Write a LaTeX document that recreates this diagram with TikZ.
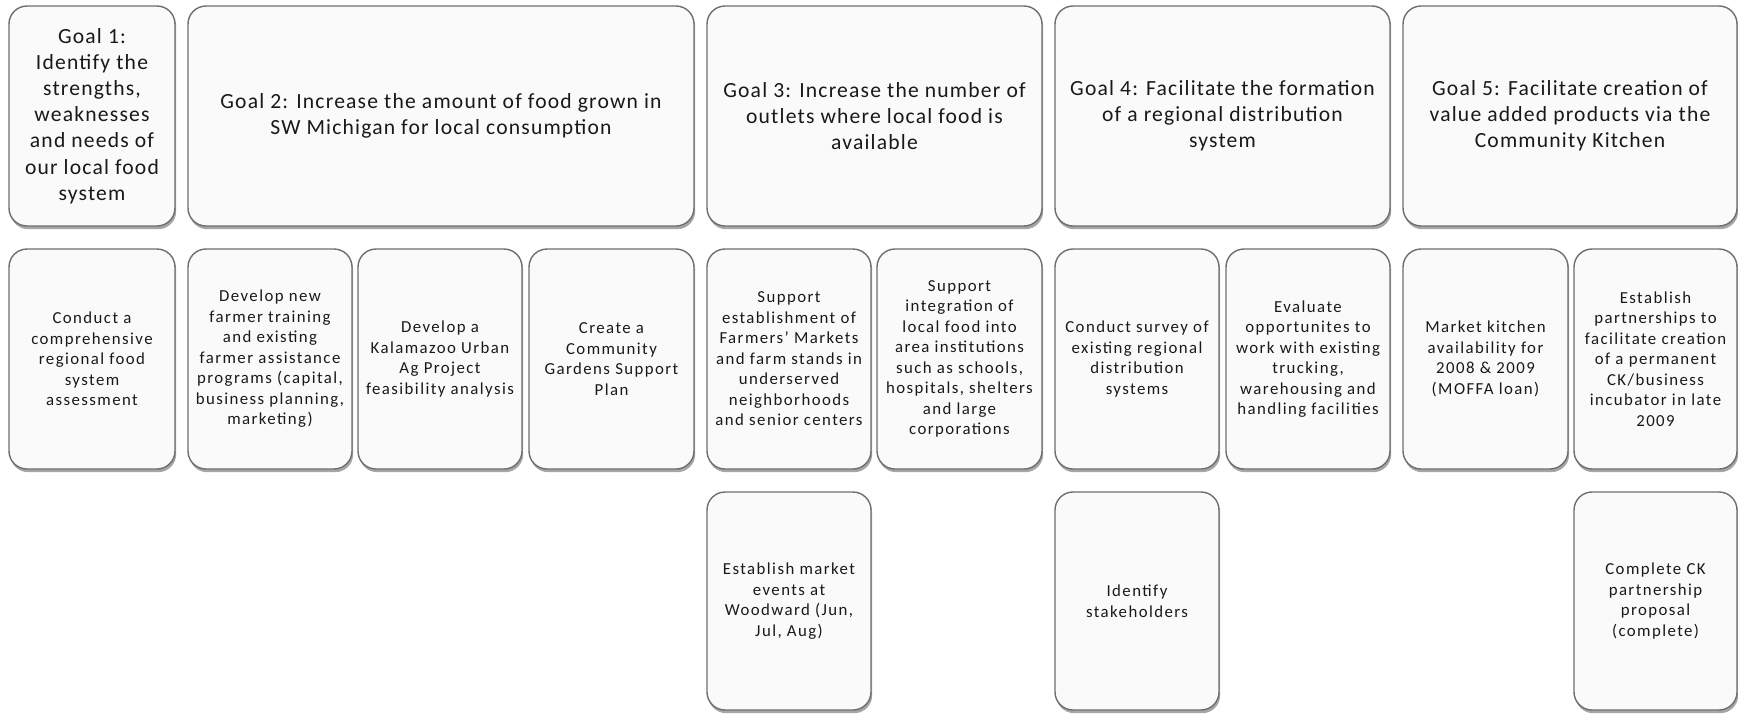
\documentclass[tikz,border=0pt]{standalone}
\usepackage{fontspec}
\setmainfont{Carlito}
\newfontfamily\goalfont[LetterSpace=5.5]{Carlito}
\newfontfamily\taskfont[LetterSpace=8.5]{Carlito}
\usetikzlibrary{shadows}
\definecolor{boxline}{HTML}{6E6E6E}
\definecolor{boxfill}{HTML}{FAFAFA}
\tikzset{
  cardbox/.style={draw=boxline, line width=0.7pt, fill=boxfill, rounded corners=9pt,
    align=center, inner sep=0pt, text=black!90,
    drop shadow={shadow xshift=0.6pt, shadow yshift=-1.6pt, fill=black, opacity=0.35}},
  goalbox/.style={cardbox, font=\goalfont\fontsize{10.8}{13.1}\selectfont},
  taskbox/.style={cardbox, font=\taskfont\fontsize{8.4}{10.25}\selectfont},
}
\newcommand\cardat[7]{\node[#1, minimum width={(#5-#3)*0.5pt}, minimum height={(#6-#4)*0.5pt}] (#2) at ({(#3+#5)/2},{(#4+#6)/2}) {#7};}
\begin{document}
\begin{tikzpicture}[x=0.5pt,y=-0.5pt]
\useasboundingbox (0,0) rectangle (1738,713);
% Row 1: goals
\cardat{goalbox}{g1}{9}{6}{175}{226}{Goal 1:\\ Identify the\\ strengths,\\ weaknesses\\ and needs of\\ our local food\\ system}
\cardat{goalbox}{g2}{188}{6}{694}{226}{Goal 2: Increase the amount of food grown in\\ SW Michigan for local consumption}
\cardat{goalbox}{g3}{707}{6}{1042}{226}{Goal 3: Increase the number of\\ outlets where local food is\\ available}
\cardat{goalbox}{g4}{1055}{6}{1390}{226}{Goal 4: Facilitate the formation\\ of a regional distribution\\ system}
\cardat{goalbox}{g5}{1403}{6}{1737}{226}{Goal 5: Facilitate creation of\\ value added products via the\\ Community Kitchen}
% Row 2
\cardat{taskbox}{a1}{9}{249}{175}{469}{Conduct a\\ comprehensive\\ regional food\\ system\\ assessment}
\cardat{taskbox}{b1}{188}{249}{352}{469}{Develop new\\ farmer training\\ and existing\\ farmer assistance\\ programs (capital,\\ business planning,\\ marketing)}
\cardat{taskbox}{b2}{358}{249}{522}{469}{Develop a\\ Kalamazoo Urban\\ Ag Project\\ feasibility analysis}
\cardat{taskbox}{b3}{529}{249}{694}{469}{Create a\\ Community\\ Gardens Support\\ Plan}
\cardat{taskbox}{c1}{707}{249}{871}{469}{Support\\ establishment of\\ Farmers’ Markets\\ and farm stands in\\ underserved\\ neighborhoods\\ and senior centers}
\cardat{taskbox}{c2}{877}{249}{1042}{469}{Support\\ integration of\\ local food into\\ area institutions\\ such as schools,\\ hospitals, shelters\\ and large\\ corporations}
\cardat{taskbox}{d1}{1055}{249}{1219}{469}{Conduct survey of\\ existing regional\\ distribution\\ systems}
\cardat{taskbox}{d2}{1226}{249}{1390}{469}{Evaluate\\ opportunites to\\ work with existing\\ trucking,\\ warehousing and\\ handling facilities}
\cardat{taskbox}{e1}{1403}{249}{1568}{469}{Market kitchen\\ availability for\\ 2008 \& 2009\\ (MOFFA loan)}
\cardat{taskbox}{e2}{1574}{249}{1737}{469}{Establish\\ partnerships to\\ facilitate creation\\ of a permanent\\ CK/business\\ incubator in late\\ 2009}
% Row 3
\cardat{taskbox}{c1b}{707}{492}{871}{710}{Establish market\\ events at\\ Woodward (Jun,\\ Jul, Aug)}
\cardat{taskbox}{d1b}{1055}{492}{1219}{710}{Identify\\ stakeholders}
\cardat{taskbox}{e2b}{1574}{492}{1737}{710}{Complete CK\\ partnership\\ proposal\\ (complete)}
\end{tikzpicture}
\end{document}
